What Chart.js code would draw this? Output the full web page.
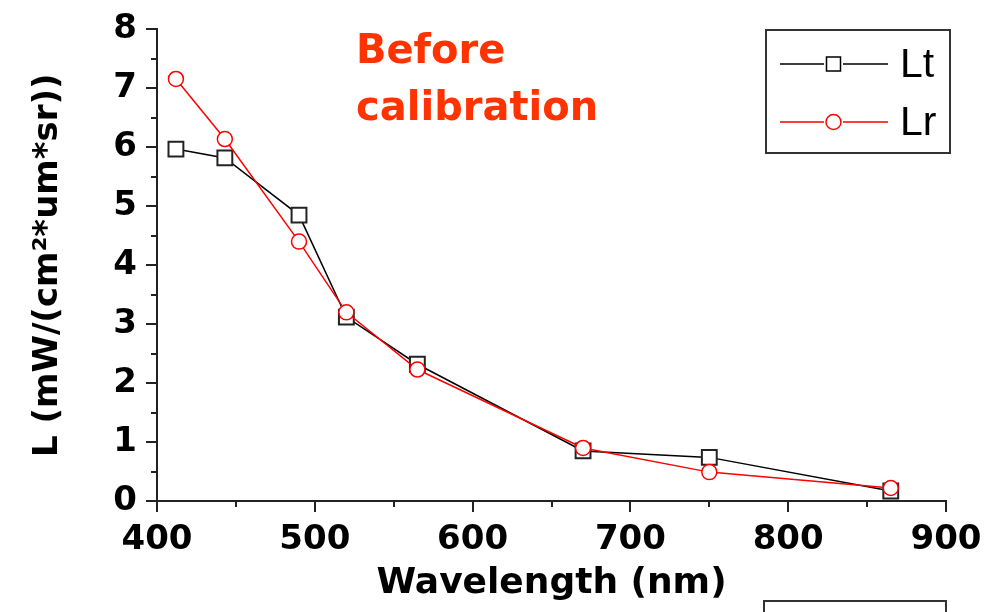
<!DOCTYPE html>
<html>
<head>
<meta charset="utf-8">
<script src="https://cdn.jsdelivr.net/npm/chart.js@4/dist/chart.umd.min.js"></script>
<style>
  html, body { margin: 0; padding: 0; background: #fff; }
  #wrap { width: 994px; height: 612px; position: relative; }
</style>
</head>
<body>
<div id="wrap"><canvas id="mycanvas" width="994" height="612"></canvas></div>
<script>
// wavelengths (nm) and radiances
var wavelengths = [412, 443, 490, 520, 565, 670, 750, 865];
var lt_values = [5.97, 5.82, 4.85, 3.12, 2.32, 0.85, 0.74, 0.17];
var lr_values = [7.16, 6.14, 4.40, 3.20, 2.23, 0.90, 0.49, 0.22];
var series_labels = ['Lt', 'Lr'];
var x_ticks = [400, 500, 600, 700, 800, 900];
var y_ticks = [0, 1, 2, 3, 4, 5, 6, 7, 8];
var note_lines = ['Before', 'calibration'];

var axisColor = '#222';
var tickFont = { family: 'DejaVu Sans', weight: 'bold', size: 34 };

var toPoints = function(xs, ys) {
    var pts = [];
    for (var i = 0; i < xs.length; i++) {
        pts.push({ x: xs[i], y: ys[i] });
    }
    return pts;
};

// minor ticks, note text, legend and the clipped box at the bottom
var extras = {
    id: 'extras',
    afterDraw: function(chart) {
        var ctx = chart.ctx;
        var xs = chart.scales.x, ys = chart.scales.y;
        ctx.save();
        ctx.strokeStyle = axisColor;
        ctx.lineWidth = 2;
        ctx.beginPath();
        for (var v = 450; v < 900; v += 100) {
            var px = Math.round(xs.getPixelForValue(v));
            ctx.moveTo(px, ys.bottom);
            ctx.lineTo(px, ys.bottom + 6);
        }
        for (var w = 0.5; w < 8; w += 1) {
            var py = Math.round(ys.getPixelForValue(w));
            ctx.moveTo(xs.left - 6, py);
            ctx.lineTo(xs.left, py);
        }
        ctx.stroke();

        // note
        ctx.fillStyle = '#ff3300';
        ctx.font = 'bold 40px "DejaVu Sans"';
        ctx.textAlign = 'left';
        ctx.textBaseline = 'alphabetic';
        ctx.fillText(note_lines[0], 356, 63);
        ctx.fillText(note_lines[1], 356, 120);

        // legend
        ctx.strokeStyle = '#333';
        ctx.lineWidth = 2;
        ctx.strokeRect(766, 30, 184, 123);
        var rows = [64, 122];
        var dsets = chart.data.datasets;
        for (var i = 0; i < dsets.length; i++) {
            var d = dsets[i];
            var y = rows[i];
            ctx.strokeStyle = d.borderColor;
            ctx.lineWidth = 1.5;
            ctx.beginPath();
            ctx.moveTo(780, y); ctx.lineTo(824, y);
            ctx.moveTo(843, y); ctx.lineTo(888, y);
            ctx.stroke();
            ctx.lineWidth = 1.5;
            if (d.pointStyle === 'rect') {
                ctx.strokeRect(826.5, y - 7, 14, 14);
            } else {
                ctx.beginPath();
                ctx.arc(833.5, y, 7.5, 0, Math.PI * 2);
                ctx.stroke();
            }
            ctx.fillStyle = '#000';
            ctx.font = '41px "Liberation Sans"';
            ctx.textBaseline = 'middle';
            ctx.fillText(d.label, 900, y + 2);
        }

        // box edge cut off at the bottom of the picture
        ctx.strokeStyle = '#333';
        ctx.lineWidth = 2;
        ctx.strokeRect(764, 601, 182, 40);
        ctx.restore();
    }
};

var chartdata = {
    datasets: [
        {
            label: series_labels[0],
            data: toPoints(wavelengths, lt_values),
            borderColor: '#000',
            backgroundColor: '#fff',
            borderWidth: 1.5,
            pointStyle: 'rect',
            pointRadius: 10.5,
            pointBorderWidth: 2,
            pointBackgroundColor: '#fff',
            pointBorderColor: '#222',
            showLine: true,
            order: 1
        },
        {
            label: series_labels[1],
            data: toPoints(wavelengths, lr_values),
            borderColor: '#ff0000',
            backgroundColor: '#fff',
            borderWidth: 1.5,
            pointStyle: 'circle',
            pointRadius: 7.5,
            pointBorderWidth: 1.5,
            pointBackgroundColor: '#fff',
            pointBorderColor: '#ff0000',
            showLine: true,
            order: 0
        }
    ]
};

var ctx = document.getElementById('mycanvas');

var lineGraph = new Chart(ctx, {
    type: 'scatter',
    data: chartdata,
    plugins: [extras],
    options: {
        responsive: false,
        animation: false,
        events: [],
        layout: { padding: { left: 0, top: 24, right: 48, bottom: 0 } },
        plugins: {
            legend: { display: false },
            tooltip: { enabled: false }
        },
        scales: {
            x: {
                type: 'linear',
                min: 400,
                max: 900,
                afterFit: function(scale) { scale.height = 111; },
                afterBuildTicks: function(scale) {
                    scale.ticks = x_ticks.map(function(v) { return { value: v }; });
                },
                border: { color: axisColor, width: 2 },
                grid: { drawOnChartArea: false, color: axisColor, lineWidth: 2, tickLength: 11 },
                ticks: { color: '#000', font: tickFont, padding: 8, maxRotation: 0 },
                title: {
                    display: true,
                    text: 'Wavelength (nm)',
                    color: '#000',
                    font: { family: 'DejaVu Sans', weight: 'bold', size: 36 },
                    padding: { top: 0, bottom: 7 }
                }
            },
            y: {
                type: 'linear',
                min: 0,
                max: 8,
                afterFit: function(scale) { scale.width = 157; },
                afterBuildTicks: function(scale) {
                    scale.ticks = y_ticks.map(function(v) { return { value: v }; });
                },
                border: { color: axisColor, width: 2 },
                grid: { drawOnChartArea: false, color: axisColor, lineWidth: 2, tickLength: 11 },
                ticks: { color: '#000', font: tickFont, padding: 9 },
                title: {
                    display: true,
                    text: 'L (mW/(cm\u00b2*um*sr))',
                    color: '#000',
                    font: { family: 'DejaVu Sans', weight: 'bold', size: 34 },
                    padding: { top: 28, bottom: 0 }
                }
            }
        }
    }
});
</script>
</body>
</html>
